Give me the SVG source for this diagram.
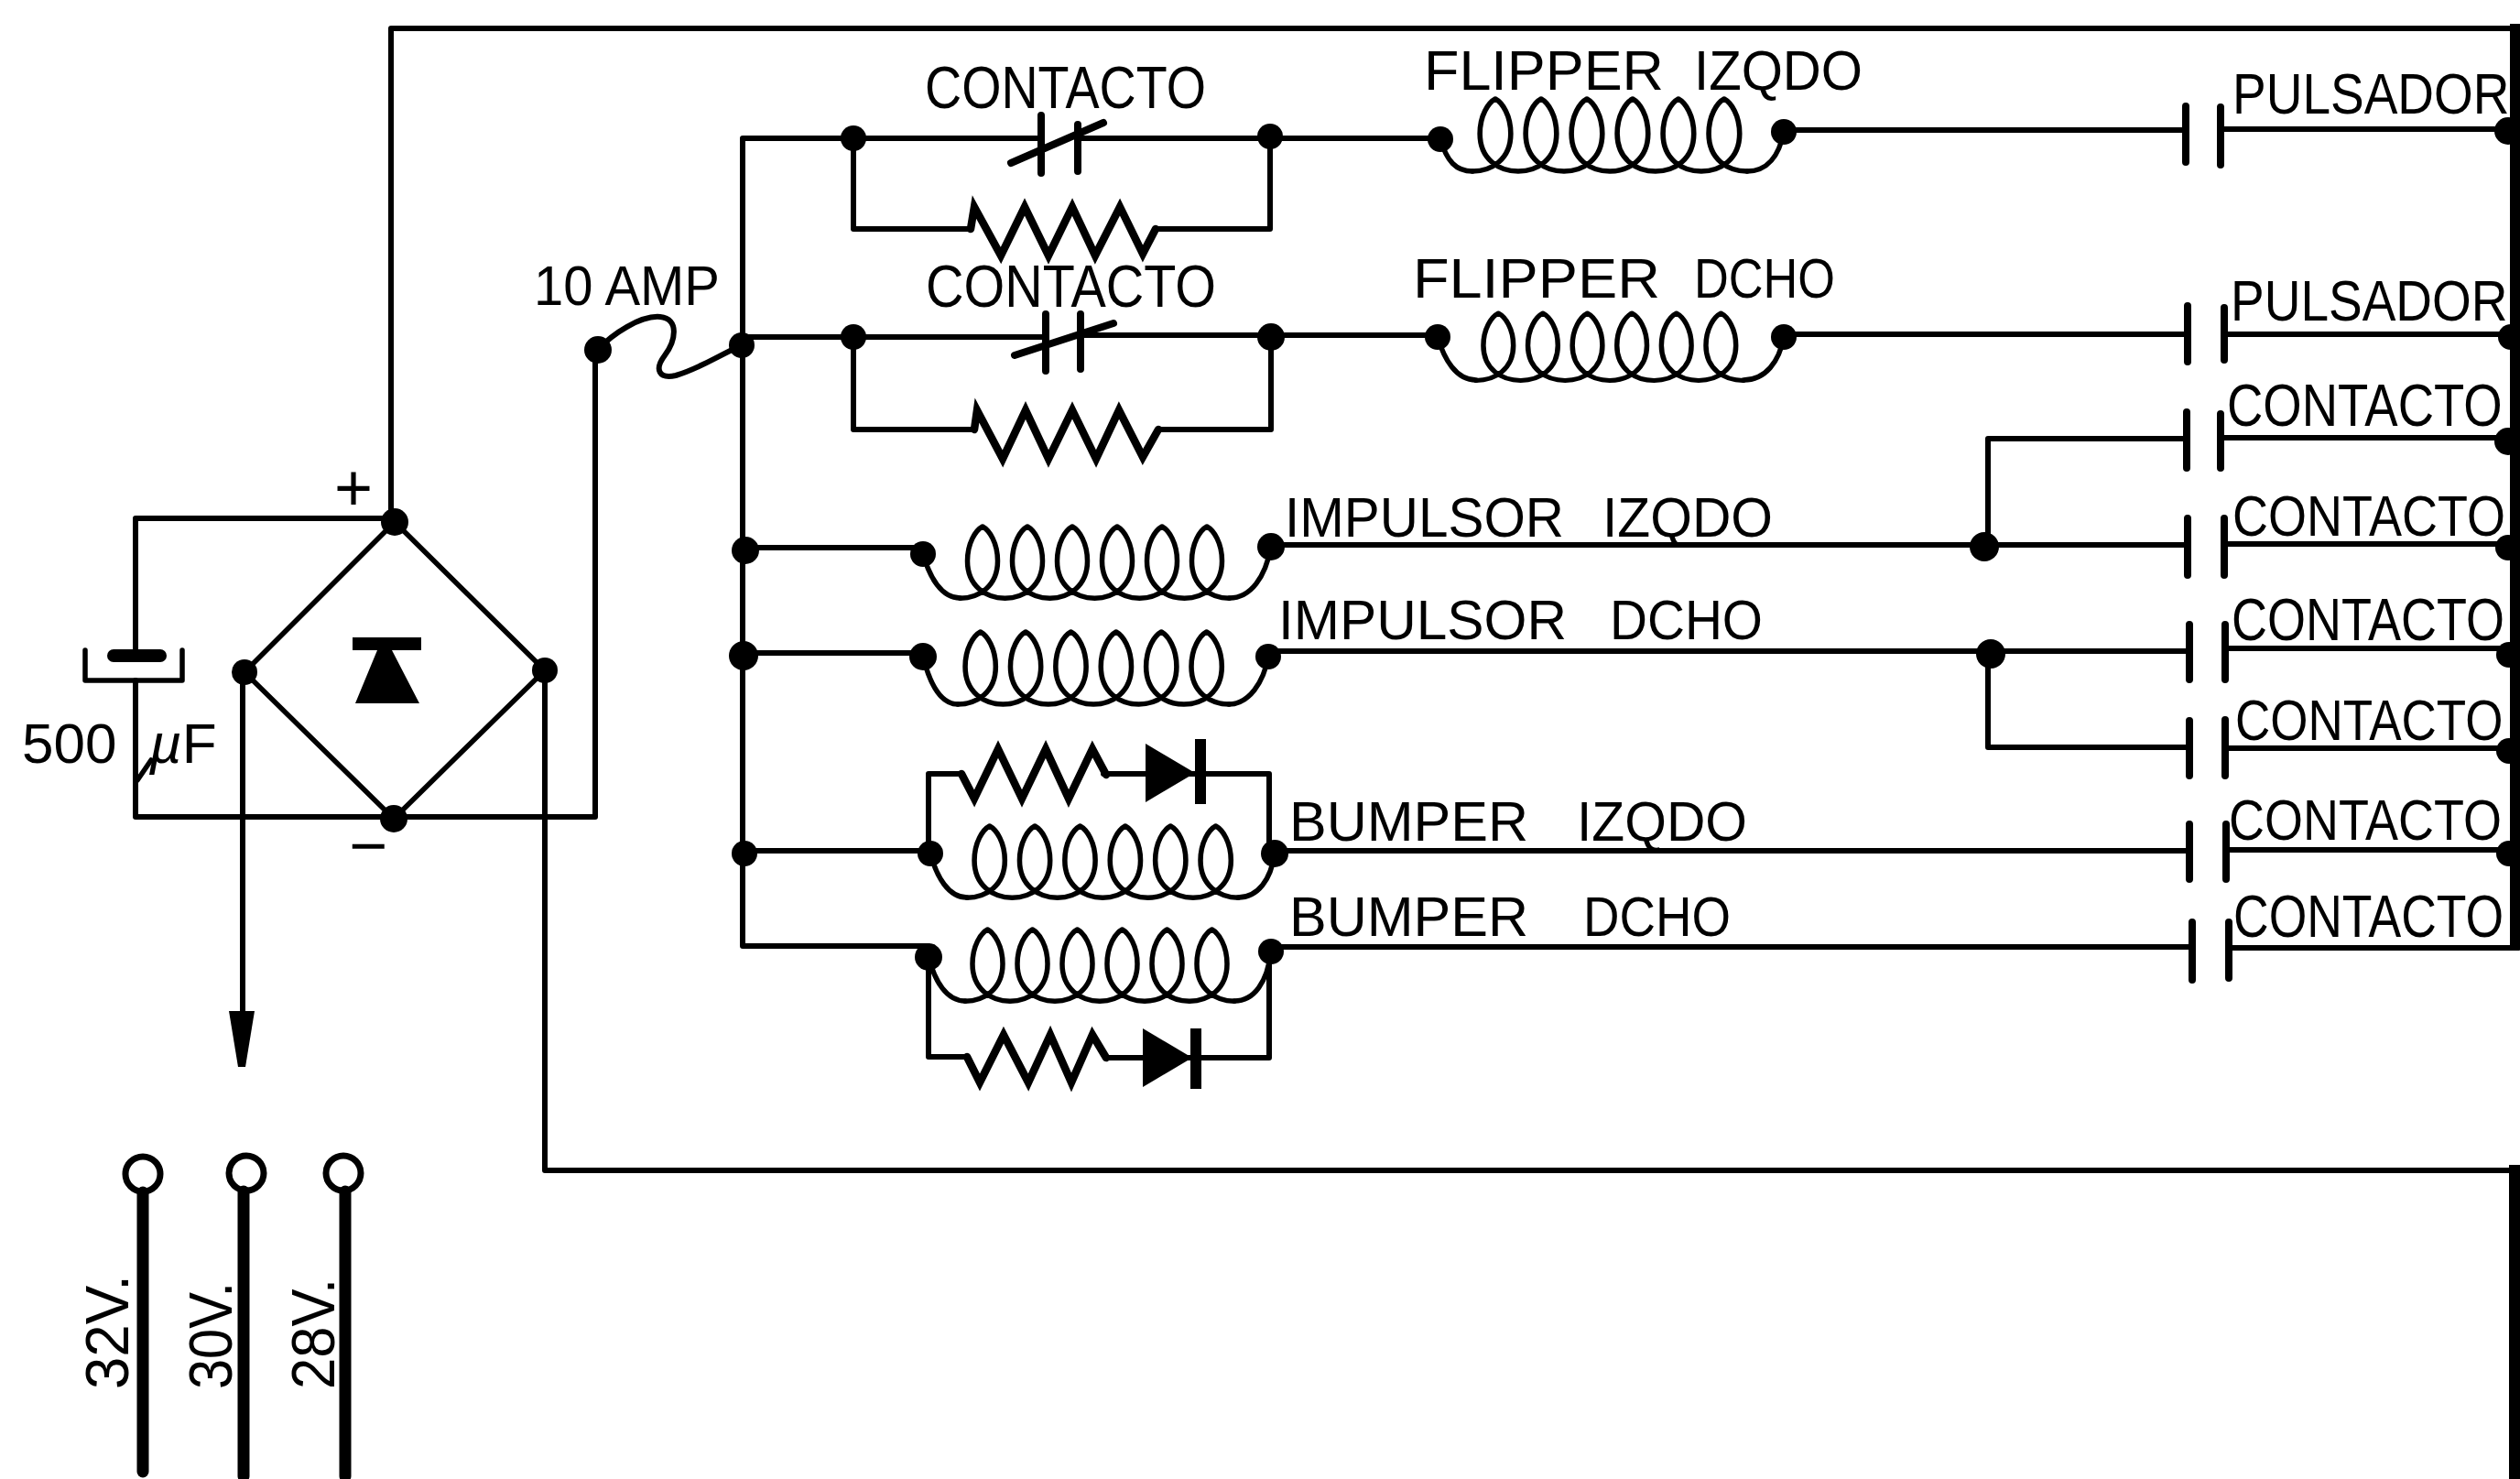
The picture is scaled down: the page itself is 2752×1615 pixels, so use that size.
<svg xmlns="http://www.w3.org/2000/svg" width="2752" height="1615" viewBox="0 0 2752 1615">
<style>
.w{fill:none;stroke:#000;stroke-width:6;stroke-linecap:round;stroke-linejoin:round}
.r{fill:none;stroke:#000;stroke-width:8.5;stroke-linecap:round;stroke-linejoin:miter}
.c{fill:none;stroke:#000;stroke-width:5.5;stroke-linecap:round;stroke-linejoin:round}
.p{fill:none;stroke:#000;stroke-width:8;stroke-linecap:round}
.b{fill:none;stroke:#000;stroke-width:12;stroke-linecap:butt}
.f{fill:#000;stroke:none}
text{font-family:"Liberation Sans",Arial,sans-serif;fill:#000}
.t{font-size:62px}
.u{font-size:65px}
.n{font-size:54px}
.v{font-size:66px}
</style>
<defs>
<path id="coil" d="M0,79c20.500,0 41,-13 41,-41c0,-20 -9,-34 -16.500,-38c-7.500,4 -16.500,18 -16.500,38c0,28 20.500,41 41,41c20.500,0 41,-13 41,-41c0,-20 -9,-34 -16.500,-38c-7.500,4 -16.500,18 -16.500,38c0,28 20.500,41 41,41c20.500,0 41,-13 41,-41c0,-20 -9,-34 -16.500,-38c-7.500,4 -16.500,18 -16.500,38c0,28 20.500,41 41,41c20.500,0 41,-13 41,-41c0,-20 -9,-34 -16.500,-38c-7.500,4 -16.500,18 -16.500,38c0,28 20.500,41 41,41c20.500,0 41,-13 41,-41c0,-20 -9,-34 -16.500,-38c-7.500,4 -16.500,18 -16.500,38c0,28 20.500,41 41,41c20.500,0 41,-13 41,-41c0,-20 -9,-34 -16.500,-38c-7.500,4 -16.500,18 -16.500,38c0,28 20.500,41 41,41"/>
<path id="diode" d="M0,-32L54,0L0,32Z"/>
</defs>

<g id="connectors">
<path class="w" d="M427,570V31H2752"/>
<path class="w" d="M431,566H148V708"/>
<path class="w" d="M148,743V892H650V382"/>
<path class="w" d="M265,734V1110"/>
<path class="w" d="M595,732V1278H2750"/>
<path class="w" d="M1137,151H811V1033H1014"/>
<path class="w" d="M811,368H1142"/>
<path class="w" d="M1177,151H1572"/>
<path class="w" d="M1180,366H1571"/>
<path class="w" d="M812,598H1008"/>
<path class="w" d="M812,713H1008"/>
<path class="w" d="M813,929H1016"/>
<path class="w" d="M932,151V250H1060"/>
<path class="w" d="M1262,250H1387V149"/>
<path class="w" d="M932,368V469H1064"/>
<path class="w" d="M1265,469H1388V368"/>
<path class="w" d="M1948,142H2387"/>
<path class="w" d="M1948,365H2389"/>
<path class="w" d="M1388,595H2388"/>
<path class="w" d="M1385,711H2391"/>
<path class="w" d="M2388,479H2171V597"/>
<path class="w" d="M2171,714V816H2391"/>
<path class="w" d="M1392,929H2391"/>
<path class="w" d="M1388,1034H2394"/>
<path class="w" d="M2425,141H2739"/>
<path class="w" d="M2429,365H2742"/>
<path class="w" d="M2425,478H2739"/>
<path class="w" d="M2429,594H2739"/>
<path class="w" d="M2430,708H2740"/>
<path class="w" d="M2430,817H2740"/>
<path class="w" d="M2431,928H2740"/>
<path class="w" d="M2434,1035H2750"/>
<path class="w" d="M1014,932V845H1050"/>
<path class="w" d="M1205,845H1386V932"/>
<path class="w" d="M1014,1045V1154H1056"/>
<path class="w" d="M1208,1155H1386V1039"/>
<path class="b" d="M2747,26V1036"/>
<path class="b" d="M2746,1272V1615"/>
</g>

<g id="bridge-rectifier">
<path class="c" d="M431,570L267,734L430,894L595,732Z"/>
<path class="f" d="M385,696H460V710H428L458,768H388L412,710H385Z"/>
<text class="t" x="386" y="557" text-anchor="middle" style="font-size:72px">+</text>
<text class="t" x="402" y="948" text-anchor="middle" style="font-size:72px">−</text>
</g>

<g id="capacitor">
<rect class="f" x="117" y="709" width="65" height="14" rx="7"/>
<path class="c" d="M93,710V743H199V710"/>
<text class="t" y="833"><tspan x="24">500</tspan> <tspan x="163" font-style="italic">µ</tspan><tspan>F</tspan></text>
<path class="c" d="M150,852L165,830"/>
</g>

<g id="fuse">
<path class="w" d="M653,382C668,365 700,344 721,346C742,348 738,372 726,388C714,404 720,414 738,410C765,402 785,388 810,377"/>
<text class="t" x="583" y="333" textLength="203" lengthAdjust="spacingAndGlyphs">10 AMP</text>
</g>

<g id="contacto-1">
<path class="p" d="M1137,126V189M1177,136V187"/>
<path class="p" d="M1104,178L1205,134"/>
<text class="u" x="1010" y="118" textLength="307" lengthAdjust="spacingAndGlyphs">CONTACTO</text>
</g>
<g id="resistor-1"><polyline class="r" points="1060,250 1064,226 1093,279 1119,226 1145,279 1171,226 1196,279 1223,226 1248,277 1262,250"/></g>

<g id="contacto-2">
<path class="p" d="M1142,343V405M1180,343V403"/>
<path class="p" d="M1108,388L1216,353"/>
<text class="u" x="1011" y="335" textLength="317" lengthAdjust="spacingAndGlyphs">CONTACTO</text>
</g>
<g id="resistor-2"><polyline class="r" points="1064,469 1067,448 1095,501 1120,448 1145,501 1171,448 1197,501 1222,448 1248,499 1265,469"/></g>

<g id="flipper-izqdo">
<use href="#coil" class="c" transform="translate(1608,108) scale(1.02,1)"/>
<path class="c" d="M1573,152C1580,176 1590,187 1608,187M1908,187C1930,187 1943,170 1948,144"/>
<text class="t" y="98"><tspan x="1555" textLength="262" lengthAdjust="spacingAndGlyphs">FLIPPER</tspan> <tspan x="1850" textLength="184" lengthAdjust="spacingAndGlyphs">IZQDO</tspan></text>
</g>
<g id="flipper-dcho">
<use href="#coil" class="c" transform="translate(1612,342) scale(.992,.93)"/>
<path class="c" d="M1570,368C1577,392 1590,415 1612,415M1904,415C1928,415 1943,395 1948,368"/>
<text class="t" y="325"><tspan x="1543" textLength="270" lengthAdjust="spacingAndGlyphs">FLIPPER</tspan> <tspan x="1850" textLength="154" lengthAdjust="spacingAndGlyphs">DCHO</tspan></text>
</g>
<g id="impulsor-izqdo">
<use href="#coil" class="c" transform="translate(1048.5,575) scale(1,.99)"/>
<path class="c" d="M1008,605C1015,630 1028,653 1048.5,653M1342.5,653C1366,653 1382,630 1388,597"/>
<text class="t" y="586"><tspan x="1403" textLength="305" lengthAdjust="spacingAndGlyphs">IMPULSOR</tspan> <tspan x="1750" textLength="186" lengthAdjust="spacingAndGlyphs">IZQDO</tspan></text>
</g>
<g id="impulsor-dcho">
<use href="#coil" class="c" transform="translate(1046,690) scale(1.008,1)"/>
<path class="c" d="M1008,717C1015,745 1026,769 1046,769M1342,769C1364,769 1380,745 1385,717"/>
<text class="t" y="698"><tspan x="1396" textLength="315" lengthAdjust="spacingAndGlyphs">IMPULSOR</tspan> <tspan x="1758" textLength="167" lengthAdjust="spacingAndGlyphs">DCHO</tspan></text>
</g>
<g id="bumper-izqdo">
<use href="#coil" class="c" transform="translate(1056,902) scale(1.008,.99)"/>
<path class="c" d="M1016,932C1023,958 1036,980 1056,980M1352,980C1374,980 1388,960 1392,932"/>
<polyline class="r" points="1050,845 1064,872 1090,818 1116,872 1142,818 1167,872 1193,818 1208,846"/>
<use href="#diode" class="f" transform="translate(1251,844)"/>
<path class="b" d="M1311,807V878"/>
<text class="t" y="918"><tspan x="1408" textLength="261" lengthAdjust="spacingAndGlyphs">BUMPER</tspan> <tspan x="1722" textLength="186" lengthAdjust="spacingAndGlyphs">IZQDO</tspan></text>
</g>
<g id="bumper-dcho">
<use href="#coil" class="c" transform="translate(1054,1015) scale(1,.99)"/>
<path class="c" d="M1014,1045C1021,1072 1034,1093 1054,1093M1348,1093C1370,1093 1384,1072 1388,1039"/>
<polyline class="r" points="1056,1154 1070,1182 1096,1130 1123,1182 1147,1130 1170,1182 1193,1130 1208,1155"/>
<use href="#diode" class="f" transform="translate(1248,1155)"/>
<path class="b" d="M1306,1123V1189"/>
<text class="t" y="1022"><tspan x="1408" textLength="261" lengthAdjust="spacingAndGlyphs">BUMPER</tspan> <tspan x="1729" textLength="161" lengthAdjust="spacingAndGlyphs">DCHO</tspan></text>
</g>

<g id="switch-1"><path class="p" d="M2387,116V177M2425,117V180"/><text class="n" transform="translate(2438,124) scale(1,1.13)" style="font-size:55px">PULSADOR</text></g>
<g id="switch-2"><path class="p" d="M2389,334V395M2429,336V393"/><text class="n" transform="translate(2436,350) scale(1,1.13)" style="font-size:55px">PULSADOR</text></g>
<g id="switch-3"><path class="p" d="M2388,450V511M2425,452V511"/><text class="n" transform="translate(2432,465) scale(1,1.2)" style="font-size:54.500px">CONTACTO</text></g>
<g id="switch-4"><path class="p" d="M2389,566V628M2429,566V628"/><text class="n" transform="translate(2438,585) scale(1,1.15)">CONTACTO</text></g>
<g id="switch-5"><path class="p" d="M2391,682V742M2430,682V742"/><text class="n" transform="translate(2437,699) scale(1,1.2)">CONTACTO</text></g>
<g id="switch-6"><path class="p" d="M2391,787V847M2430,786V847"/><text class="n" transform="translate(2441,808) scale(1,1.2)" style="font-size:53px">CONTACTO</text></g>
<g id="switch-7"><path class="p" d="M2391,900V960M2431,900V960"/><text class="n" transform="translate(2434,917) scale(1,1.15)">CONTACTO</text></g>
<g id="switch-8"><path class="p" d="M2394,1007V1070M2434,1007V1068"/><text class="n" transform="translate(2439,1023) scale(1,1.2)" style="font-size:53.500px">CONTACTO</text></g>

<g id="junctions" class="f">
<circle cx="431" cy="570" r="15"/><circle cx="267" cy="734" r="14"/><circle cx="595" cy="732" r="14"/><circle cx="430" cy="894" r="15"/>
<circle cx="653" cy="382" r="15"/><circle cx="810" cy="377" r="14"/>
<circle cx="932" cy="151" r="14"/><circle cx="1387" cy="149" r="14"/><circle cx="1573" cy="152" r="14"/><circle cx="1948" cy="144" r="14"/>
<circle cx="932" cy="368" r="14"/><circle cx="1388" cy="368" r="15"/><circle cx="1570" cy="368" r="14"/><circle cx="1948" cy="368" r="14"/>
<circle cx="814" cy="601" r="15"/><circle cx="1008" cy="605" r="14"/><circle cx="1388" cy="597" r="15"/><circle cx="2167" cy="597" r="16"/>
<circle cx="812" cy="716" r="16"/><circle cx="1008" cy="717" r="15"/><circle cx="1385" cy="717" r="14"/><circle cx="2174" cy="714" r="16"/>
<circle cx="813" cy="932" r="14"/><circle cx="1016" cy="932" r="14"/><circle cx="1392" cy="932" r="15"/>
<circle cx="1014" cy="1045" r="15"/><circle cx="1388" cy="1039" r="14"/>
<circle cx="2739" cy="143" r="15"/><circle cx="2742" cy="368" r="14"/><circle cx="2739" cy="482" r="15"/><circle cx="2739" cy="598" r="14"/><circle cx="2740" cy="715" r="14"/><circle cx="2740" cy="820" r="14"/><circle cx="2740" cy="932" r="14"/>
</g>

<g id="arrow"><path class="f" d="M250,1104H278L268,1165H260Z"/></g>

<g id="terminal-32v">
<circle cx="156" cy="1282" r="19" fill="none" stroke="#000" stroke-width="7"/>
<path d="M156,1302V1607" stroke="#000" stroke-width="13" stroke-linecap="round"/>
<text class="v" transform="translate(140,1517) rotate(-90)" textLength="125" lengthAdjust="spacingAndGlyphs">32V.</text>
</g>
<g id="terminal-30v">
<circle cx="269" cy="1281" r="19" fill="none" stroke="#000" stroke-width="7"/>
<path d="M266,1301V1612" stroke="#000" stroke-width="13" stroke-linecap="round"/>
<text class="v" transform="translate(253,1517) rotate(-90)" textLength="117" lengthAdjust="spacingAndGlyphs">30V.</text>
</g>
<g id="terminal-28v">
<circle cx="375" cy="1281" r="19" fill="none" stroke="#000" stroke-width="7"/>
<path d="M377,1301V1612" stroke="#000" stroke-width="13" stroke-linecap="round"/>
<text class="v" transform="translate(365,1517) rotate(-90)" textLength="121" lengthAdjust="spacingAndGlyphs">28V.</text>
</g>
</svg>
